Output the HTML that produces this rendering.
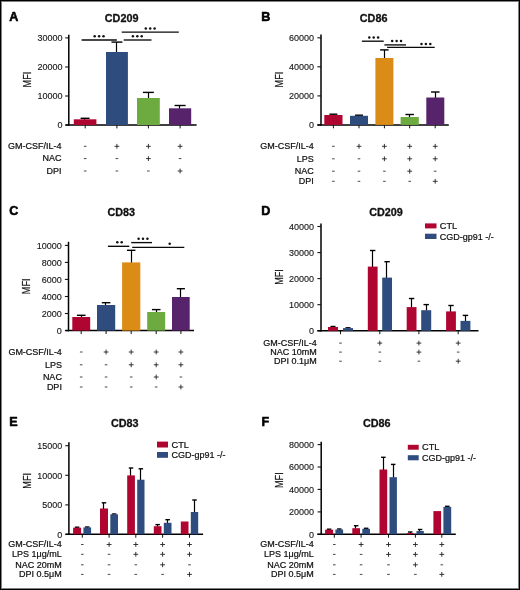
<!DOCTYPE html>
<html><head><meta charset="utf-8"><title>Figure</title>
<style>
html,body{margin:0;padding:0;background:#fff;}
body{width:520px;height:590px;overflow:hidden;}
svg{display:block;font-family:"Liberation Sans",sans-serif;will-change:transform;}
</style></head>
<body>
<svg width="520" height="590" viewBox="0 0 520 590" fill="#111">
<rect x="0" y="0" width="520" height="590" fill="#fff"/>
<g stroke-linejoin="round">
<text x="9.2" y="20.5" font-size="12.6" font-weight="bold" stroke="#000" stroke-width="0.55" fill="#000">A</text>
<text x="121.6" y="21.9" font-size="10.8" text-anchor="middle" font-weight="bold" stroke="#111" stroke-width="0.3">CD209</text>
<line x1="68.8" y1="34.7" x2="68.8" y2="125.7" stroke="#000" stroke-width="1.5"/>
<line x1="65.2" y1="37.9" x2="68.8" y2="37.9" stroke="#111" stroke-width="1.1"/>
<text x="62.5" y="41.14" font-size="9" text-anchor="end" stroke="#1a1a1a" stroke-width="0.14" fill="#1a1a1a">30000</text>
<line x1="65.2" y1="67" x2="68.8" y2="67" stroke="#111" stroke-width="1.1"/>
<text x="62.5" y="70.24" font-size="9" text-anchor="end" stroke="#1a1a1a" stroke-width="0.14" fill="#1a1a1a">20000</text>
<line x1="65.2" y1="96" x2="68.8" y2="96" stroke="#111" stroke-width="1.1"/>
<text x="62.5" y="99.24" font-size="9" text-anchor="end" stroke="#1a1a1a" stroke-width="0.14" fill="#1a1a1a">10000</text>
<line x1="65.2" y1="125" x2="68.8" y2="125" stroke="#111" stroke-width="1.1"/>
<text x="62.5" y="128.24" font-size="9" text-anchor="end" stroke="#1a1a1a" stroke-width="0.14" fill="#1a1a1a">0</text>
<text x="0" y="0" font-size="10.5" text-anchor="middle" transform="translate(30.62,79.6) rotate(-90) scale(0.87,1)" stroke="#111" stroke-width="0.22">MFI</text>
<line x1="65.5" y1="125" x2="196.6" y2="125" stroke="#000" stroke-width="1.5"/>
<line x1="85.2" y1="125" x2="85.2" y2="128.4" stroke="#111" stroke-width="1"/>
<line x1="116.9" y1="125" x2="116.9" y2="128.4" stroke="#111" stroke-width="1"/>
<line x1="148.4" y1="125" x2="148.4" y2="128.4" stroke="#111" stroke-width="1"/>
<line x1="180.1" y1="125" x2="180.1" y2="128.4" stroke="#111" stroke-width="1"/>
<line x1="84.5" y1="118.3" x2="84.5" y2="119.8" stroke="#000" stroke-width="1.2"/>
<line x1="80.6" y1="118.3" x2="89.6" y2="118.3" stroke="#000" stroke-width="1.4"/>
<rect x="73.8" y="119.3" width="22.6" height="5.7" fill="#AF0530"/>
<line x1="116.5" y1="42.1" x2="116.5" y2="52.5" stroke="#000" stroke-width="1.2"/>
<line x1="111.45" y1="42.1" x2="122.45" y2="42.1" stroke="#000" stroke-width="1.4"/>
<rect x="106" y="52" width="21.9" height="73" fill="#2F4C7E"/>
<line x1="148.5" y1="92.4" x2="148.5" y2="98.5" stroke="#000" stroke-width="1.2"/>
<line x1="142.9" y1="92.4" x2="153.9" y2="92.4" stroke="#000" stroke-width="1.4"/>
<rect x="137" y="98" width="22.8" height="27" fill="#6DAB41"/>
<line x1="179.5" y1="105.5" x2="179.5" y2="108.8" stroke="#000" stroke-width="1.2"/>
<line x1="174.6" y1="105.5" x2="185.6" y2="105.5" stroke="#000" stroke-width="1.4"/>
<rect x="169" y="108.3" width="22.2" height="16.7" fill="#57246C"/>
<line x1="81.6" y1="40" x2="116.8" y2="40" stroke="#0a0a0a" stroke-width="1.35"/>
<circle cx="94.7" cy="36.3" r="1.25" fill="#111"/>
<circle cx="99.1" cy="36.3" r="1.25" fill="#111"/>
<circle cx="103.5" cy="36.3" r="1.25" fill="#111"/>
<line x1="123.7" y1="40" x2="151.5" y2="40" stroke="#0a0a0a" stroke-width="1.35"/>
<circle cx="132.9" cy="36.3" r="1.25" fill="#111"/>
<circle cx="137.3" cy="36.3" r="1.25" fill="#111"/>
<circle cx="141.7" cy="36.3" r="1.25" fill="#111"/>
<line x1="121.7" y1="32.1" x2="178.8" y2="32.1" stroke="#0a0a0a" stroke-width="1.35"/>
<circle cx="145.8" cy="28.5" r="1.25" fill="#111"/>
<circle cx="150.2" cy="28.5" r="1.25" fill="#111"/>
<circle cx="154.6" cy="28.5" r="1.25" fill="#111"/>
<text x="61.6" y="149.18" font-size="9" text-anchor="end" stroke="#111" stroke-width="0.22">GM-CSF/IL-4</text>
<line x1="83.9" y1="146.3" x2="86.5" y2="146.3" stroke="#333" stroke-width="0.9"/>
<line x1="114.5" y1="146.3" x2="119.3" y2="146.3" stroke="#222" stroke-width="0.9"/>
<line x1="116.9" y1="143.9" x2="116.9" y2="148.7" stroke="#222" stroke-width="0.9"/>
<line x1="146" y1="146.3" x2="150.8" y2="146.3" stroke="#222" stroke-width="0.9"/>
<line x1="148.4" y1="143.9" x2="148.4" y2="148.7" stroke="#222" stroke-width="0.9"/>
<line x1="177.7" y1="146.3" x2="182.5" y2="146.3" stroke="#222" stroke-width="0.9"/>
<line x1="180.1" y1="143.9" x2="180.1" y2="148.7" stroke="#222" stroke-width="0.9"/>
<text x="61.6" y="161.48" font-size="9" text-anchor="end" stroke="#111" stroke-width="0.22">NAC</text>
<line x1="83.9" y1="158.6" x2="86.5" y2="158.6" stroke="#333" stroke-width="0.9"/>
<line x1="115.6" y1="158.6" x2="118.2" y2="158.6" stroke="#333" stroke-width="0.9"/>
<line x1="146" y1="158.6" x2="150.8" y2="158.6" stroke="#222" stroke-width="0.9"/>
<line x1="148.4" y1="156.2" x2="148.4" y2="161" stroke="#222" stroke-width="0.9"/>
<line x1="178.8" y1="158.6" x2="181.4" y2="158.6" stroke="#333" stroke-width="0.9"/>
<text x="61.6" y="173.88" font-size="9" text-anchor="end" stroke="#111" stroke-width="0.22">DPI</text>
<line x1="83.9" y1="171" x2="86.5" y2="171" stroke="#333" stroke-width="0.9"/>
<line x1="115.6" y1="171" x2="118.2" y2="171" stroke="#333" stroke-width="0.9"/>
<line x1="147.1" y1="171" x2="149.7" y2="171" stroke="#333" stroke-width="0.9"/>
<line x1="177.7" y1="171" x2="182.5" y2="171" stroke="#222" stroke-width="0.9"/>
<line x1="180.1" y1="168.6" x2="180.1" y2="173.4" stroke="#222" stroke-width="0.9"/>
<text x="261.2" y="20.5" font-size="12.6" font-weight="bold" stroke="#000" stroke-width="0.55" fill="#000">B</text>
<text x="373.6" y="21.7" font-size="10.8" text-anchor="middle" font-weight="bold" stroke="#111" stroke-width="0.3">CD86</text>
<line x1="321" y1="34.6" x2="321" y2="125.6" stroke="#000" stroke-width="1.5"/>
<line x1="317.4" y1="37.8" x2="321" y2="37.8" stroke="#111" stroke-width="1.1"/>
<text x="314" y="41.04" font-size="9" text-anchor="end" stroke="#1a1a1a" stroke-width="0.14" fill="#1a1a1a">60000</text>
<line x1="317.4" y1="66.8" x2="321" y2="66.8" stroke="#111" stroke-width="1.1"/>
<text x="314" y="70.04" font-size="9" text-anchor="end" stroke="#1a1a1a" stroke-width="0.14" fill="#1a1a1a">40000</text>
<line x1="317.4" y1="95.9" x2="321" y2="95.9" stroke="#111" stroke-width="1.1"/>
<text x="314" y="99.14" font-size="9" text-anchor="end" stroke="#1a1a1a" stroke-width="0.14" fill="#1a1a1a">20000</text>
<line x1="317.4" y1="124.9" x2="321" y2="124.9" stroke="#111" stroke-width="1.1"/>
<text x="314" y="128.14" font-size="9" text-anchor="end" stroke="#1a1a1a" stroke-width="0.14" fill="#1a1a1a">0</text>
<text x="0" y="0" font-size="10.5" text-anchor="middle" transform="translate(282.62,79.6) rotate(-90) scale(0.87,1)" stroke="#111" stroke-width="0.22">MFI</text>
<line x1="317.3" y1="124.9" x2="448.8" y2="124.9" stroke="#000" stroke-width="1.5"/>
<line x1="333.4" y1="124.9" x2="333.4" y2="128.3" stroke="#111" stroke-width="1"/>
<line x1="359" y1="124.9" x2="359" y2="128.3" stroke="#111" stroke-width="1"/>
<line x1="384.4" y1="124.9" x2="384.4" y2="128.3" stroke="#111" stroke-width="1"/>
<line x1="409.7" y1="124.9" x2="409.7" y2="128.3" stroke="#111" stroke-width="1"/>
<line x1="435.2" y1="124.9" x2="435.2" y2="128.3" stroke="#111" stroke-width="1"/>
<line x1="333.5" y1="114.2" x2="333.5" y2="115.5" stroke="#000" stroke-width="1.2"/>
<line x1="329.4" y1="114.2" x2="337.4" y2="114.2" stroke="#000" stroke-width="1.4"/>
<rect x="324.3" y="115" width="18.2" height="9.9" fill="#AF0530"/>
<line x1="358.5" y1="115.2" x2="358.5" y2="116.3" stroke="#000" stroke-width="1.2"/>
<line x1="355" y1="115.2" x2="363" y2="115.2" stroke="#000" stroke-width="1.4"/>
<rect x="350" y="115.8" width="18" height="9.1" fill="#2F4C7E"/>
<line x1="384.5" y1="49.9" x2="384.5" y2="58.5" stroke="#000" stroke-width="1.2"/>
<line x1="380.15" y1="49.9" x2="388.65" y2="49.9" stroke="#000" stroke-width="1.4"/>
<rect x="375.4" y="58" width="18" height="66.9" fill="#DB8C17"/>
<line x1="409.5" y1="114.5" x2="409.5" y2="117.5" stroke="#000" stroke-width="1.2"/>
<line x1="405.45" y1="114.5" x2="413.95" y2="114.5" stroke="#000" stroke-width="1.4"/>
<rect x="400.6" y="117" width="18.2" height="7.9" fill="#6DAB41"/>
<line x1="435.5" y1="92" x2="435.5" y2="98" stroke="#000" stroke-width="1.2"/>
<line x1="431.05" y1="92" x2="439.55" y2="92" stroke="#000" stroke-width="1.4"/>
<rect x="426.3" y="97.5" width="18" height="27.4" fill="#57246C"/>
<line x1="361.9" y1="41.2" x2="383.7" y2="41.2" stroke="#0a0a0a" stroke-width="1.35"/>
<circle cx="369.3" cy="37.5" r="1.25" fill="#111"/>
<circle cx="373.7" cy="37.5" r="1.25" fill="#111"/>
<circle cx="378.1" cy="37.5" r="1.25" fill="#111"/>
<line x1="384.4" y1="44.9" x2="406" y2="44.9" stroke="#0a0a0a" stroke-width="1.35"/>
<circle cx="392.2" cy="41" r="1.25" fill="#111"/>
<circle cx="396.6" cy="41" r="1.25" fill="#111"/>
<circle cx="401" cy="41" r="1.25" fill="#111"/>
<line x1="387.1" y1="47.4" x2="434.7" y2="47.4" stroke="#0a0a0a" stroke-width="1.35"/>
<circle cx="421.5" cy="43.9" r="1.25" fill="#111"/>
<circle cx="425.9" cy="43.9" r="1.25" fill="#111"/>
<circle cx="430.3" cy="43.9" r="1.25" fill="#111"/>
<text x="313.8" y="149.18" font-size="9" text-anchor="end" stroke="#111" stroke-width="0.22">GM-CSF/IL-4</text>
<line x1="332.1" y1="146.3" x2="334.7" y2="146.3" stroke="#333" stroke-width="0.9"/>
<line x1="356.6" y1="146.3" x2="361.4" y2="146.3" stroke="#222" stroke-width="0.9"/>
<line x1="359" y1="143.9" x2="359" y2="148.7" stroke="#222" stroke-width="0.9"/>
<line x1="382" y1="146.3" x2="386.8" y2="146.3" stroke="#222" stroke-width="0.9"/>
<line x1="384.4" y1="143.9" x2="384.4" y2="148.7" stroke="#222" stroke-width="0.9"/>
<line x1="407.3" y1="146.3" x2="412.1" y2="146.3" stroke="#222" stroke-width="0.9"/>
<line x1="409.7" y1="143.9" x2="409.7" y2="148.7" stroke="#222" stroke-width="0.9"/>
<line x1="432.8" y1="146.3" x2="437.6" y2="146.3" stroke="#222" stroke-width="0.9"/>
<line x1="435.2" y1="143.9" x2="435.2" y2="148.7" stroke="#222" stroke-width="0.9"/>
<text x="313.8" y="161.68" font-size="9" text-anchor="end" stroke="#111" stroke-width="0.22">LPS</text>
<line x1="332.1" y1="158.8" x2="334.7" y2="158.8" stroke="#333" stroke-width="0.9"/>
<line x1="357.7" y1="158.8" x2="360.3" y2="158.8" stroke="#333" stroke-width="0.9"/>
<line x1="382" y1="158.8" x2="386.8" y2="158.8" stroke="#222" stroke-width="0.9"/>
<line x1="384.4" y1="156.4" x2="384.4" y2="161.2" stroke="#222" stroke-width="0.9"/>
<line x1="407.3" y1="158.8" x2="412.1" y2="158.8" stroke="#222" stroke-width="0.9"/>
<line x1="409.7" y1="156.4" x2="409.7" y2="161.2" stroke="#222" stroke-width="0.9"/>
<line x1="432.8" y1="158.8" x2="437.6" y2="158.8" stroke="#222" stroke-width="0.9"/>
<line x1="435.2" y1="156.4" x2="435.2" y2="161.2" stroke="#222" stroke-width="0.9"/>
<text x="313.8" y="174.08" font-size="9" text-anchor="end" stroke="#111" stroke-width="0.22">NAC</text>
<line x1="332.1" y1="171.2" x2="334.7" y2="171.2" stroke="#333" stroke-width="0.9"/>
<line x1="357.7" y1="171.2" x2="360.3" y2="171.2" stroke="#333" stroke-width="0.9"/>
<line x1="383.1" y1="171.2" x2="385.7" y2="171.2" stroke="#333" stroke-width="0.9"/>
<line x1="407.3" y1="171.2" x2="412.1" y2="171.2" stroke="#222" stroke-width="0.9"/>
<line x1="409.7" y1="168.8" x2="409.7" y2="173.6" stroke="#222" stroke-width="0.9"/>
<line x1="433.9" y1="171.2" x2="436.5" y2="171.2" stroke="#333" stroke-width="0.9"/>
<text x="313.8" y="184.18" font-size="9" text-anchor="end" stroke="#111" stroke-width="0.22">DPI</text>
<line x1="332.1" y1="181.3" x2="334.7" y2="181.3" stroke="#333" stroke-width="0.9"/>
<line x1="357.7" y1="181.3" x2="360.3" y2="181.3" stroke="#333" stroke-width="0.9"/>
<line x1="383.1" y1="181.3" x2="385.7" y2="181.3" stroke="#333" stroke-width="0.9"/>
<line x1="408.4" y1="181.3" x2="411" y2="181.3" stroke="#333" stroke-width="0.9"/>
<line x1="432.8" y1="181.3" x2="437.6" y2="181.3" stroke="#222" stroke-width="0.9"/>
<line x1="435.2" y1="178.9" x2="435.2" y2="183.7" stroke="#222" stroke-width="0.9"/>
<text x="9.2" y="215.1" font-size="12.6" font-weight="bold" stroke="#000" stroke-width="0.55" fill="#000">C</text>
<text x="121.3" y="216.2" font-size="10.8" text-anchor="middle" font-weight="bold" stroke="#111" stroke-width="0.3">CD83</text>
<line x1="68.5" y1="241.8" x2="68.5" y2="331.3" stroke="#000" stroke-width="1.5"/>
<line x1="64.9" y1="245.4" x2="68.5" y2="245.4" stroke="#111" stroke-width="1.1"/>
<text x="61.8" y="248.64" font-size="9" text-anchor="end" stroke="#1a1a1a" stroke-width="0.14" fill="#1a1a1a">10000</text>
<line x1="64.9" y1="262.4" x2="68.5" y2="262.4" stroke="#111" stroke-width="1.1"/>
<text x="61.8" y="265.64" font-size="9" text-anchor="end" stroke="#1a1a1a" stroke-width="0.14" fill="#1a1a1a">8000</text>
<line x1="64.9" y1="279.4" x2="68.5" y2="279.4" stroke="#111" stroke-width="1.1"/>
<text x="61.8" y="282.64" font-size="9" text-anchor="end" stroke="#1a1a1a" stroke-width="0.14" fill="#1a1a1a">6000</text>
<line x1="64.9" y1="296.5" x2="68.5" y2="296.5" stroke="#111" stroke-width="1.1"/>
<text x="61.8" y="299.74" font-size="9" text-anchor="end" stroke="#1a1a1a" stroke-width="0.14" fill="#1a1a1a">4000</text>
<line x1="64.9" y1="313.5" x2="68.5" y2="313.5" stroke="#111" stroke-width="1.1"/>
<text x="61.8" y="316.74" font-size="9" text-anchor="end" stroke="#1a1a1a" stroke-width="0.14" fill="#1a1a1a">2000</text>
<line x1="64.9" y1="330.6" x2="68.5" y2="330.6" stroke="#111" stroke-width="1.1"/>
<text x="61.8" y="333.84" font-size="9" text-anchor="end" stroke="#1a1a1a" stroke-width="0.14" fill="#1a1a1a">0</text>
<text x="0" y="0" font-size="10.5" text-anchor="middle" transform="translate(30.12,286.3) rotate(-90) scale(0.87,1)" stroke="#111" stroke-width="0.22">MFI</text>
<line x1="65.5" y1="330.6" x2="194" y2="330.6" stroke="#000" stroke-width="1.5"/>
<line x1="81.2" y1="330.6" x2="81.2" y2="334" stroke="#111" stroke-width="1"/>
<line x1="106.1" y1="330.6" x2="106.1" y2="334" stroke="#111" stroke-width="1"/>
<line x1="131.2" y1="330.6" x2="131.2" y2="334" stroke="#111" stroke-width="1"/>
<line x1="156.2" y1="330.6" x2="156.2" y2="334" stroke="#111" stroke-width="1"/>
<line x1="180.9" y1="330.6" x2="180.9" y2="334" stroke="#111" stroke-width="1"/>
<line x1="81.5" y1="315.3" x2="81.5" y2="317.5" stroke="#000" stroke-width="1.2"/>
<line x1="76.95" y1="315.3" x2="85.55" y2="315.3" stroke="#000" stroke-width="1.4"/>
<rect x="72.3" y="317" width="17.9" height="13.6" fill="#AF0530"/>
<line x1="105.5" y1="302.7" x2="105.5" y2="305.5" stroke="#000" stroke-width="1.2"/>
<line x1="101.8" y1="302.7" x2="110.4" y2="302.7" stroke="#000" stroke-width="1.4"/>
<rect x="97" y="305" width="18.2" height="25.6" fill="#2F4C7E"/>
<line x1="131.5" y1="250.3" x2="131.5" y2="262.9" stroke="#000" stroke-width="1.2"/>
<line x1="126.95" y1="250.3" x2="135.45" y2="250.3" stroke="#000" stroke-width="1.4"/>
<rect x="122.1" y="262.4" width="18.2" height="68.2" fill="#DB8C17"/>
<line x1="156.5" y1="309.6" x2="156.5" y2="312.5" stroke="#000" stroke-width="1.2"/>
<line x1="151.9" y1="309.6" x2="160.5" y2="309.6" stroke="#000" stroke-width="1.4"/>
<rect x="147.2" y="312" width="18" height="18.6" fill="#6DAB41"/>
<line x1="180.5" y1="288.7" x2="180.5" y2="297.5" stroke="#000" stroke-width="1.2"/>
<line x1="176.8" y1="288.7" x2="184.9" y2="288.7" stroke="#000" stroke-width="1.4"/>
<rect x="172" y="297" width="17.7" height="33.6" fill="#57246C"/>
<line x1="107.9" y1="246.3" x2="129.3" y2="246.3" stroke="#0a0a0a" stroke-width="1.35"/>
<circle cx="117.3" cy="242.2" r="1.25" fill="#111"/>
<circle cx="121.7" cy="242.2" r="1.25" fill="#111"/>
<line x1="131.2" y1="242.6" x2="152" y2="242.6" stroke="#0a0a0a" stroke-width="1.35"/>
<circle cx="138.6" cy="238.8" r="1.25" fill="#111"/>
<circle cx="143" cy="238.8" r="1.25" fill="#111"/>
<circle cx="147.4" cy="238.8" r="1.25" fill="#111"/>
<line x1="132.2" y1="247.3" x2="184.3" y2="247.3" stroke="#0a0a0a" stroke-width="1.35"/>
<circle cx="169.7" cy="243.8" r="1.25" fill="#111"/>
<text x="61.9" y="354.88" font-size="9" text-anchor="end" stroke="#111" stroke-width="0.22">GM-CSF/IL-4</text>
<line x1="79.9" y1="352" x2="82.5" y2="352" stroke="#333" stroke-width="0.9"/>
<line x1="103.7" y1="352" x2="108.5" y2="352" stroke="#222" stroke-width="0.9"/>
<line x1="106.1" y1="349.6" x2="106.1" y2="354.4" stroke="#222" stroke-width="0.9"/>
<line x1="128.8" y1="352" x2="133.6" y2="352" stroke="#222" stroke-width="0.9"/>
<line x1="131.2" y1="349.6" x2="131.2" y2="354.4" stroke="#222" stroke-width="0.9"/>
<line x1="153.8" y1="352" x2="158.6" y2="352" stroke="#222" stroke-width="0.9"/>
<line x1="156.2" y1="349.6" x2="156.2" y2="354.4" stroke="#222" stroke-width="0.9"/>
<line x1="178.5" y1="352" x2="183.3" y2="352" stroke="#222" stroke-width="0.9"/>
<line x1="180.9" y1="349.6" x2="180.9" y2="354.4" stroke="#222" stroke-width="0.9"/>
<text x="61.9" y="367.68" font-size="9" text-anchor="end" stroke="#111" stroke-width="0.22">LPS</text>
<line x1="79.9" y1="364.8" x2="82.5" y2="364.8" stroke="#333" stroke-width="0.9"/>
<line x1="104.8" y1="364.8" x2="107.4" y2="364.8" stroke="#333" stroke-width="0.9"/>
<line x1="128.8" y1="364.8" x2="133.6" y2="364.8" stroke="#222" stroke-width="0.9"/>
<line x1="131.2" y1="362.4" x2="131.2" y2="367.2" stroke="#222" stroke-width="0.9"/>
<line x1="153.8" y1="364.8" x2="158.6" y2="364.8" stroke="#222" stroke-width="0.9"/>
<line x1="156.2" y1="362.4" x2="156.2" y2="367.2" stroke="#222" stroke-width="0.9"/>
<line x1="178.5" y1="364.8" x2="183.3" y2="364.8" stroke="#222" stroke-width="0.9"/>
<line x1="180.9" y1="362.4" x2="180.9" y2="367.2" stroke="#222" stroke-width="0.9"/>
<text x="61.9" y="379.88" font-size="9" text-anchor="end" stroke="#111" stroke-width="0.22">NAC</text>
<line x1="79.9" y1="377" x2="82.5" y2="377" stroke="#333" stroke-width="0.9"/>
<line x1="104.8" y1="377" x2="107.4" y2="377" stroke="#333" stroke-width="0.9"/>
<line x1="129.9" y1="377" x2="132.5" y2="377" stroke="#333" stroke-width="0.9"/>
<line x1="153.8" y1="377" x2="158.6" y2="377" stroke="#222" stroke-width="0.9"/>
<line x1="156.2" y1="374.6" x2="156.2" y2="379.4" stroke="#222" stroke-width="0.9"/>
<line x1="179.6" y1="377" x2="182.2" y2="377" stroke="#333" stroke-width="0.9"/>
<text x="61.9" y="389.88" font-size="9" text-anchor="end" stroke="#111" stroke-width="0.22">DPI</text>
<line x1="79.9" y1="387" x2="82.5" y2="387" stroke="#333" stroke-width="0.9"/>
<line x1="104.8" y1="387" x2="107.4" y2="387" stroke="#333" stroke-width="0.9"/>
<line x1="129.9" y1="387" x2="132.5" y2="387" stroke="#333" stroke-width="0.9"/>
<line x1="154.9" y1="387" x2="157.5" y2="387" stroke="#333" stroke-width="0.9"/>
<line x1="178.5" y1="387" x2="183.3" y2="387" stroke="#222" stroke-width="0.9"/>
<line x1="180.9" y1="384.6" x2="180.9" y2="389.4" stroke="#222" stroke-width="0.9"/>
<text x="261.2" y="215.1" font-size="12.6" font-weight="bold" stroke="#000" stroke-width="0.55" fill="#000">D</text>
<text x="386" y="216.1" font-size="10.8" text-anchor="middle" font-weight="bold" stroke="#111" stroke-width="0.3">CD209</text>
<line x1="321" y1="223.4" x2="321" y2="331.5" stroke="#000" stroke-width="1.5"/>
<line x1="317.4" y1="226.5" x2="321" y2="226.5" stroke="#111" stroke-width="1.1"/>
<text x="314" y="229.74" font-size="9" text-anchor="end" stroke="#1a1a1a" stroke-width="0.14" fill="#1a1a1a">40000</text>
<line x1="317.4" y1="252.6" x2="321" y2="252.6" stroke="#111" stroke-width="1.1"/>
<text x="314" y="255.84" font-size="9" text-anchor="end" stroke="#1a1a1a" stroke-width="0.14" fill="#1a1a1a">30000</text>
<line x1="317.4" y1="278.6" x2="321" y2="278.6" stroke="#111" stroke-width="1.1"/>
<text x="314" y="281.84" font-size="9" text-anchor="end" stroke="#1a1a1a" stroke-width="0.14" fill="#1a1a1a">20000</text>
<line x1="317.4" y1="304.7" x2="321" y2="304.7" stroke="#111" stroke-width="1.1"/>
<text x="314" y="307.94" font-size="9" text-anchor="end" stroke="#1a1a1a" stroke-width="0.14" fill="#1a1a1a">10000</text>
<line x1="317.4" y1="330.8" x2="321" y2="330.8" stroke="#111" stroke-width="1.1"/>
<text x="314" y="334.04" font-size="9" text-anchor="end" stroke="#1a1a1a" stroke-width="0.14" fill="#1a1a1a">0</text>
<text x="0" y="0" font-size="10.5" text-anchor="middle" transform="translate(282.82,277) rotate(-90) scale(0.87,1)" stroke="#111" stroke-width="0.22">MFI</text>
<line x1="317.3" y1="330.8" x2="478.5" y2="330.8" stroke="#000" stroke-width="1.5"/>
<line x1="340.5" y1="330.8" x2="340.5" y2="334.2" stroke="#111" stroke-width="1"/>
<line x1="379.8" y1="330.8" x2="379.8" y2="334.2" stroke="#111" stroke-width="1"/>
<line x1="418.9" y1="330.8" x2="418.9" y2="334.2" stroke="#111" stroke-width="1"/>
<line x1="458.2" y1="330.8" x2="458.2" y2="334.2" stroke="#111" stroke-width="1"/>
<line x1="332.5" y1="326.5" x2="332.5" y2="327.5" stroke="#000" stroke-width="1.2"/>
<line x1="330.5" y1="326.5" x2="335.5" y2="326.5" stroke="#000" stroke-width="1.4"/>
<rect x="328" y="327" width="10" height="3.8" fill="#AF0530"/>
<line x1="347.5" y1="327.8" x2="347.5" y2="328.6" stroke="#000" stroke-width="1.2"/>
<line x1="345.5" y1="327.8" x2="350.5" y2="327.8" stroke="#000" stroke-width="1.4"/>
<rect x="343" y="328.1" width="10" height="2.7" fill="#2F4C7E"/>
<line x1="372.5" y1="250.5" x2="372.5" y2="267.1" stroke="#000" stroke-width="1.2"/>
<line x1="370" y1="250.5" x2="375.4" y2="250.5" stroke="#000" stroke-width="1.4"/>
<rect x="367.8" y="266.6" width="9.8" height="64.2" fill="#AF0530"/>
<line x1="386.5" y1="261.7" x2="386.5" y2="278.1" stroke="#000" stroke-width="1.2"/>
<line x1="384.4" y1="261.7" x2="389.8" y2="261.7" stroke="#000" stroke-width="1.4"/>
<rect x="382.2" y="277.6" width="9.8" height="53.2" fill="#2F4C7E"/>
<line x1="411.5" y1="298.5" x2="411.5" y2="307.6" stroke="#000" stroke-width="1.2"/>
<line x1="408.9" y1="298.5" x2="414.3" y2="298.5" stroke="#000" stroke-width="1.4"/>
<rect x="406.7" y="307.1" width="9.8" height="23.7" fill="#AF0530"/>
<line x1="426.5" y1="304.6" x2="426.5" y2="310.7" stroke="#000" stroke-width="1.2"/>
<line x1="423.5" y1="304.6" x2="428.9" y2="304.6" stroke="#000" stroke-width="1.4"/>
<rect x="421.2" y="310.2" width="10" height="20.6" fill="#2F4C7E"/>
<line x1="450.5" y1="305.5" x2="450.5" y2="311.9" stroke="#000" stroke-width="1.2"/>
<line x1="448.3" y1="305.5" x2="453.7" y2="305.5" stroke="#000" stroke-width="1.4"/>
<rect x="446.1" y="311.4" width="9.8" height="19.4" fill="#AF0530"/>
<line x1="465.5" y1="315.4" x2="465.5" y2="321.4" stroke="#000" stroke-width="1.2"/>
<line x1="462.75" y1="315.4" x2="468.15" y2="315.4" stroke="#000" stroke-width="1.4"/>
<rect x="460.5" y="320.9" width="9.9" height="9.9" fill="#2F4C7E"/>
<rect x="425" y="223.4" width="11.5" height="5" fill="#AF0530"/>
<rect x="425" y="233.7" width="11.5" height="5.3" fill="#2F4C7E"/>
<text x="439.8" y="229.04" font-size="9.2" text-anchor="start" stroke="#111" stroke-width="0.22">CTL</text>
<text x="439.8" y="239.64" font-size="9" text-anchor="start" stroke="#111" stroke-width="0.22">CGD-gp91 -/-</text>
<text x="316.8" y="345.98" font-size="9" text-anchor="end" stroke="#111" stroke-width="0.22">GM-CSF/IL-4</text>
<line x1="339.2" y1="343.1" x2="341.8" y2="343.1" stroke="#333" stroke-width="0.9"/>
<line x1="377.4" y1="343.1" x2="382.2" y2="343.1" stroke="#222" stroke-width="0.9"/>
<line x1="379.8" y1="340.7" x2="379.8" y2="345.5" stroke="#222" stroke-width="0.9"/>
<line x1="416.5" y1="343.1" x2="421.3" y2="343.1" stroke="#222" stroke-width="0.9"/>
<line x1="418.9" y1="340.7" x2="418.9" y2="345.5" stroke="#222" stroke-width="0.9"/>
<line x1="455.8" y1="343.1" x2="460.6" y2="343.1" stroke="#222" stroke-width="0.9"/>
<line x1="458.2" y1="340.7" x2="458.2" y2="345.5" stroke="#222" stroke-width="0.9"/>
<text x="316.8" y="354.98" font-size="9" text-anchor="end" stroke="#111" stroke-width="0.22">NAC 10mM</text>
<line x1="339.2" y1="352.1" x2="341.8" y2="352.1" stroke="#333" stroke-width="0.9"/>
<line x1="378.5" y1="352.1" x2="381.1" y2="352.1" stroke="#333" stroke-width="0.9"/>
<line x1="416.5" y1="352.1" x2="421.3" y2="352.1" stroke="#222" stroke-width="0.9"/>
<line x1="418.9" y1="349.7" x2="418.9" y2="354.5" stroke="#222" stroke-width="0.9"/>
<line x1="456.9" y1="352.1" x2="459.5" y2="352.1" stroke="#333" stroke-width="0.9"/>
<text x="316.8" y="364.08" font-size="9" text-anchor="end" stroke="#111" stroke-width="0.22">DPI 0.1&#956;M</text>
<line x1="339.2" y1="361.2" x2="341.8" y2="361.2" stroke="#333" stroke-width="0.9"/>
<line x1="378.5" y1="361.2" x2="381.1" y2="361.2" stroke="#333" stroke-width="0.9"/>
<line x1="417.6" y1="361.2" x2="420.2" y2="361.2" stroke="#333" stroke-width="0.9"/>
<line x1="455.8" y1="361.2" x2="460.6" y2="361.2" stroke="#222" stroke-width="0.9"/>
<line x1="458.2" y1="358.8" x2="458.2" y2="363.6" stroke="#222" stroke-width="0.9"/>
<text x="9.2" y="426.2" font-size="12.6" font-weight="bold" stroke="#000" stroke-width="0.55" fill="#000">E</text>
<text x="124.8" y="427.2" font-size="10.8" text-anchor="middle" font-weight="bold" stroke="#111" stroke-width="0.3">CD83</text>
<line x1="68.9" y1="442.3" x2="68.9" y2="535" stroke="#000" stroke-width="1.5"/>
<line x1="65.3" y1="445.7" x2="68.9" y2="445.7" stroke="#111" stroke-width="1.1"/>
<text x="62.3" y="448.94" font-size="9" text-anchor="end" stroke="#1a1a1a" stroke-width="0.14" fill="#1a1a1a">15000</text>
<line x1="65.3" y1="475.3" x2="68.9" y2="475.3" stroke="#111" stroke-width="1.1"/>
<text x="62.3" y="478.54" font-size="9" text-anchor="end" stroke="#1a1a1a" stroke-width="0.14" fill="#1a1a1a">10000</text>
<line x1="65.3" y1="504.9" x2="68.9" y2="504.9" stroke="#111" stroke-width="1.1"/>
<text x="62.3" y="508.14" font-size="9" text-anchor="end" stroke="#1a1a1a" stroke-width="0.14" fill="#1a1a1a">5000</text>
<line x1="65.3" y1="534.3" x2="68.9" y2="534.3" stroke="#111" stroke-width="1.1"/>
<text x="62.3" y="537.54" font-size="9" text-anchor="end" stroke="#1a1a1a" stroke-width="0.14" fill="#1a1a1a">0</text>
<text x="0" y="0" font-size="10.5" text-anchor="middle" transform="translate(30.62,480.8) rotate(-90) scale(0.87,1)" stroke="#111" stroke-width="0.22">MFI</text>
<line x1="65.5" y1="534.3" x2="203.1" y2="534.3" stroke="#000" stroke-width="1.5"/>
<line x1="82.3" y1="534.3" x2="82.3" y2="537.7" stroke="#111" stroke-width="1"/>
<line x1="109.1" y1="534.3" x2="109.1" y2="537.7" stroke="#111" stroke-width="1"/>
<line x1="135.8" y1="534.3" x2="135.8" y2="537.7" stroke="#111" stroke-width="1"/>
<line x1="162.6" y1="534.3" x2="162.6" y2="537.7" stroke="#111" stroke-width="1"/>
<line x1="189.5" y1="534.3" x2="189.5" y2="537.7" stroke="#111" stroke-width="1"/>
<line x1="76.5" y1="527.2" x2="76.5" y2="528.2" stroke="#000" stroke-width="1.2"/>
<line x1="74.85" y1="527.2" x2="79.35" y2="527.2" stroke="#000" stroke-width="1.4"/>
<rect x="73.1" y="527.7" width="8" height="6.6" fill="#AF0530"/>
<line x1="87.5" y1="527" x2="87.5" y2="527.9" stroke="#000" stroke-width="1.2"/>
<line x1="85" y1="527" x2="89.5" y2="527" stroke="#000" stroke-width="1.4"/>
<rect x="83.4" y="527.4" width="7.7" height="6.9" fill="#2F4C7E"/>
<line x1="103.5" y1="502.8" x2="103.5" y2="509" stroke="#000" stroke-width="1.2"/>
<line x1="101.75" y1="502.8" x2="106.25" y2="502.8" stroke="#000" stroke-width="1.4"/>
<rect x="100" y="508.5" width="8" height="25.8" fill="#AF0530"/>
<line x1="113.5" y1="514" x2="113.5" y2="514.8" stroke="#000" stroke-width="1.2"/>
<line x1="111.9" y1="514" x2="116.4" y2="514" stroke="#000" stroke-width="1.4"/>
<rect x="110.3" y="514.3" width="7.7" height="20" fill="#2F4C7E"/>
<line x1="130.5" y1="468" x2="130.5" y2="475.9" stroke="#000" stroke-width="1.2"/>
<line x1="128.8" y1="468" x2="133.3" y2="468" stroke="#000" stroke-width="1.4"/>
<rect x="127.2" y="475.4" width="7.7" height="58.9" fill="#AF0530"/>
<line x1="140.5" y1="468.8" x2="140.5" y2="480.2" stroke="#000" stroke-width="1.2"/>
<line x1="138.6" y1="468.8" x2="143.1" y2="468.8" stroke="#000" stroke-width="1.4"/>
<rect x="137.2" y="479.7" width="7.3" height="54.6" fill="#2F4C7E"/>
<line x1="157.5" y1="524.6" x2="157.5" y2="526.7" stroke="#000" stroke-width="1.2"/>
<line x1="155.4" y1="524.6" x2="159.9" y2="524.6" stroke="#000" stroke-width="1.4"/>
<rect x="153.8" y="526.2" width="7.7" height="8.1" fill="#AF0530"/>
<line x1="167.5" y1="519.7" x2="167.5" y2="523.3" stroke="#000" stroke-width="1.2"/>
<line x1="165.4" y1="519.7" x2="169.9" y2="519.7" stroke="#000" stroke-width="1.4"/>
<rect x="163.8" y="522.8" width="7.7" height="11.5" fill="#2F4C7E"/>
<rect x="180.8" y="521.5" width="7.7" height="12.8" fill="#AF0530"/>
<line x1="194.5" y1="500" x2="194.5" y2="512.5" stroke="#000" stroke-width="1.2"/>
<line x1="192.25" y1="500" x2="196.75" y2="500" stroke="#000" stroke-width="1.4"/>
<rect x="190.8" y="512" width="7.4" height="22.3" fill="#2F4C7E"/>
<rect x="157" y="441.6" width="11" height="5.9" fill="#AF0530"/>
<rect x="157" y="452" width="11" height="5.8" fill="#2F4C7E"/>
<text x="171.6" y="448.14" font-size="9.2" text-anchor="start" stroke="#111" stroke-width="0.22">CTL</text>
<text x="171.6" y="458.44" font-size="9" text-anchor="start" stroke="#111" stroke-width="0.22">CGD-gp91 -/-</text>
<text x="61.8" y="547.38" font-size="9" text-anchor="end" stroke="#111" stroke-width="0.22">GM-CSF/IL-4</text>
<line x1="81" y1="544.5" x2="83.6" y2="544.5" stroke="#333" stroke-width="0.9"/>
<line x1="106.7" y1="544.5" x2="111.5" y2="544.5" stroke="#222" stroke-width="0.9"/>
<line x1="109.1" y1="542.1" x2="109.1" y2="546.9" stroke="#222" stroke-width="0.9"/>
<line x1="133.4" y1="544.5" x2="138.2" y2="544.5" stroke="#222" stroke-width="0.9"/>
<line x1="135.8" y1="542.1" x2="135.8" y2="546.9" stroke="#222" stroke-width="0.9"/>
<line x1="160.2" y1="544.5" x2="165" y2="544.5" stroke="#222" stroke-width="0.9"/>
<line x1="162.6" y1="542.1" x2="162.6" y2="546.9" stroke="#222" stroke-width="0.9"/>
<line x1="187.1" y1="544.5" x2="191.9" y2="544.5" stroke="#222" stroke-width="0.9"/>
<line x1="189.5" y1="542.1" x2="189.5" y2="546.9" stroke="#222" stroke-width="0.9"/>
<text x="61.8" y="557.18" font-size="9" text-anchor="end" stroke="#111" stroke-width="0.22">LPS 1&#956;g/mL</text>
<line x1="81" y1="554.3" x2="83.6" y2="554.3" stroke="#333" stroke-width="0.9"/>
<line x1="107.8" y1="554.3" x2="110.4" y2="554.3" stroke="#333" stroke-width="0.9"/>
<line x1="133.4" y1="554.3" x2="138.2" y2="554.3" stroke="#222" stroke-width="0.9"/>
<line x1="135.8" y1="551.9" x2="135.8" y2="556.7" stroke="#222" stroke-width="0.9"/>
<line x1="160.2" y1="554.3" x2="165" y2="554.3" stroke="#222" stroke-width="0.9"/>
<line x1="162.6" y1="551.9" x2="162.6" y2="556.7" stroke="#222" stroke-width="0.9"/>
<line x1="187.1" y1="554.3" x2="191.9" y2="554.3" stroke="#222" stroke-width="0.9"/>
<line x1="189.5" y1="551.9" x2="189.5" y2="556.7" stroke="#222" stroke-width="0.9"/>
<text x="61.8" y="567.68" font-size="9" text-anchor="end" stroke="#111" stroke-width="0.22">NAC 20mM</text>
<line x1="81" y1="564.8" x2="83.6" y2="564.8" stroke="#333" stroke-width="0.9"/>
<line x1="107.8" y1="564.8" x2="110.4" y2="564.8" stroke="#333" stroke-width="0.9"/>
<line x1="134.5" y1="564.8" x2="137.1" y2="564.8" stroke="#333" stroke-width="0.9"/>
<line x1="160.2" y1="564.8" x2="165" y2="564.8" stroke="#222" stroke-width="0.9"/>
<line x1="162.6" y1="562.4" x2="162.6" y2="567.2" stroke="#222" stroke-width="0.9"/>
<line x1="188.2" y1="564.8" x2="190.8" y2="564.8" stroke="#333" stroke-width="0.9"/>
<text x="61.8" y="577.28" font-size="9" text-anchor="end" stroke="#111" stroke-width="0.22">DPI 0.5&#956;M</text>
<line x1="81" y1="574.4" x2="83.6" y2="574.4" stroke="#333" stroke-width="0.9"/>
<line x1="107.8" y1="574.4" x2="110.4" y2="574.4" stroke="#333" stroke-width="0.9"/>
<line x1="134.5" y1="574.4" x2="137.1" y2="574.4" stroke="#333" stroke-width="0.9"/>
<line x1="161.3" y1="574.4" x2="163.9" y2="574.4" stroke="#333" stroke-width="0.9"/>
<line x1="187.1" y1="574.4" x2="191.9" y2="574.4" stroke="#222" stroke-width="0.9"/>
<line x1="189.5" y1="572" x2="189.5" y2="576.8" stroke="#222" stroke-width="0.9"/>
<text x="261.6" y="425.8" font-size="12.6" font-weight="bold" stroke="#000" stroke-width="0.55" fill="#000">F</text>
<text x="376.7" y="427.2" font-size="10.8" text-anchor="middle" font-weight="bold" stroke="#111" stroke-width="0.3">CD86</text>
<line x1="321.2" y1="441.8" x2="321.2" y2="535" stroke="#000" stroke-width="1.5"/>
<line x1="317.6" y1="444.6" x2="321.2" y2="444.6" stroke="#111" stroke-width="1.1"/>
<text x="314" y="447.84" font-size="9" text-anchor="end" stroke="#1a1a1a" stroke-width="0.14" fill="#1a1a1a">80000</text>
<line x1="317.6" y1="467" x2="321.2" y2="467" stroke="#111" stroke-width="1.1"/>
<text x="314" y="470.24" font-size="9" text-anchor="end" stroke="#1a1a1a" stroke-width="0.14" fill="#1a1a1a">60000</text>
<line x1="317.6" y1="489.4" x2="321.2" y2="489.4" stroke="#111" stroke-width="1.1"/>
<text x="314" y="492.64" font-size="9" text-anchor="end" stroke="#1a1a1a" stroke-width="0.14" fill="#1a1a1a">40000</text>
<line x1="317.6" y1="511.9" x2="321.2" y2="511.9" stroke="#111" stroke-width="1.1"/>
<text x="314" y="515.14" font-size="9" text-anchor="end" stroke="#1a1a1a" stroke-width="0.14" fill="#1a1a1a">20000</text>
<line x1="317.6" y1="534.3" x2="321.2" y2="534.3" stroke="#111" stroke-width="1.1"/>
<text x="314" y="537.54" font-size="9" text-anchor="end" stroke="#1a1a1a" stroke-width="0.14" fill="#1a1a1a">0</text>
<text x="0" y="0" font-size="10.5" text-anchor="middle" transform="translate(282.82,480.2) rotate(-90) scale(0.87,1)" stroke="#111" stroke-width="0.22">MFI</text>
<line x1="317.3" y1="534.3" x2="455.8" y2="534.3" stroke="#000" stroke-width="1.5"/>
<line x1="334.3" y1="534.3" x2="334.3" y2="537.7" stroke="#111" stroke-width="1"/>
<line x1="361.1" y1="534.3" x2="361.1" y2="537.7" stroke="#111" stroke-width="1"/>
<line x1="388.5" y1="534.3" x2="388.5" y2="537.7" stroke="#111" stroke-width="1"/>
<line x1="415.4" y1="534.3" x2="415.4" y2="537.7" stroke="#111" stroke-width="1"/>
<line x1="441.8" y1="534.3" x2="441.8" y2="537.7" stroke="#111" stroke-width="1"/>
<line x1="328.5" y1="529.2" x2="328.5" y2="530.2" stroke="#000" stroke-width="1.2"/>
<line x1="326.85" y1="529.2" x2="331.35" y2="529.2" stroke="#000" stroke-width="1.4"/>
<rect x="325.1" y="529.7" width="8" height="4.6" fill="#AF0530"/>
<line x1="339.5" y1="529" x2="339.5" y2="530" stroke="#000" stroke-width="1.2"/>
<line x1="337" y1="529" x2="341.5" y2="529" stroke="#000" stroke-width="1.4"/>
<rect x="335.4" y="529.5" width="7.7" height="4.8" fill="#2F4C7E"/>
<line x1="355.5" y1="525.7" x2="355.5" y2="528.7" stroke="#000" stroke-width="1.2"/>
<line x1="353.9" y1="525.7" x2="358.4" y2="525.7" stroke="#000" stroke-width="1.4"/>
<rect x="352.3" y="528.2" width="7.7" height="6.1" fill="#AF0530"/>
<line x1="365.5" y1="528.3" x2="365.5" y2="529.3" stroke="#000" stroke-width="1.2"/>
<line x1="363.9" y1="528.3" x2="368.4" y2="528.3" stroke="#000" stroke-width="1.4"/>
<rect x="362.3" y="528.8" width="7.7" height="5.5" fill="#2F4C7E"/>
<line x1="383.5" y1="457.3" x2="383.5" y2="470" stroke="#000" stroke-width="1.2"/>
<line x1="381.1" y1="457.3" x2="385.6" y2="457.3" stroke="#000" stroke-width="1.4"/>
<rect x="379.5" y="469.5" width="7.7" height="64.8" fill="#AF0530"/>
<line x1="393.5" y1="464.4" x2="393.5" y2="477.7" stroke="#000" stroke-width="1.2"/>
<line x1="390.95" y1="464.4" x2="395.45" y2="464.4" stroke="#000" stroke-width="1.4"/>
<rect x="389.5" y="477.2" width="7.4" height="57.1" fill="#2F4C7E"/>
<line x1="410.5" y1="532" x2="410.5" y2="533.5" stroke="#000" stroke-width="1.2"/>
<line x1="407.95" y1="532" x2="412.45" y2="532" stroke="#000" stroke-width="1.4"/>
<rect x="406.9" y="533" width="6.6" height="1.3" fill="#AF0530"/>
<line x1="419.5" y1="529.5" x2="419.5" y2="531.5" stroke="#000" stroke-width="1.2"/>
<line x1="417.9" y1="529.5" x2="422.4" y2="529.5" stroke="#000" stroke-width="1.4"/>
<rect x="416.5" y="531" width="7.3" height="3.3" fill="#2F4C7E"/>
<rect x="433.4" y="511.1" width="7.7" height="23.2" fill="#AF0530"/>
<line x1="447.5" y1="506.3" x2="447.5" y2="507.4" stroke="#000" stroke-width="1.2"/>
<line x1="445.05" y1="506.3" x2="449.55" y2="506.3" stroke="#000" stroke-width="1.4"/>
<rect x="443.4" y="506.9" width="7.8" height="27.4" fill="#2F4C7E"/>
<rect x="407.8" y="444.8" width="10.9" height="4.9" fill="#AF0530"/>
<rect x="407.8" y="455.2" width="10.9" height="5.1" fill="#2F4C7E"/>
<text x="422" y="450.34" font-size="9.2" text-anchor="start" stroke="#111" stroke-width="0.22">CTL</text>
<text x="422" y="460.74" font-size="9" text-anchor="start" stroke="#111" stroke-width="0.22">CGD-gp91 -/-</text>
<text x="313.8" y="547.38" font-size="9" text-anchor="end" stroke="#111" stroke-width="0.22">GM-CSF/IL-4</text>
<line x1="333" y1="544.5" x2="335.6" y2="544.5" stroke="#333" stroke-width="0.9"/>
<line x1="358.7" y1="544.5" x2="363.5" y2="544.5" stroke="#222" stroke-width="0.9"/>
<line x1="361.1" y1="542.1" x2="361.1" y2="546.9" stroke="#222" stroke-width="0.9"/>
<line x1="386.1" y1="544.5" x2="390.9" y2="544.5" stroke="#222" stroke-width="0.9"/>
<line x1="388.5" y1="542.1" x2="388.5" y2="546.9" stroke="#222" stroke-width="0.9"/>
<line x1="413" y1="544.5" x2="417.8" y2="544.5" stroke="#222" stroke-width="0.9"/>
<line x1="415.4" y1="542.1" x2="415.4" y2="546.9" stroke="#222" stroke-width="0.9"/>
<line x1="439.4" y1="544.5" x2="444.2" y2="544.5" stroke="#222" stroke-width="0.9"/>
<line x1="441.8" y1="542.1" x2="441.8" y2="546.9" stroke="#222" stroke-width="0.9"/>
<text x="313.8" y="557.28" font-size="9" text-anchor="end" stroke="#111" stroke-width="0.22">LPS 1&#956;g/mL</text>
<line x1="333" y1="554.4" x2="335.6" y2="554.4" stroke="#333" stroke-width="0.9"/>
<line x1="359.8" y1="554.4" x2="362.4" y2="554.4" stroke="#333" stroke-width="0.9"/>
<line x1="386.1" y1="554.4" x2="390.9" y2="554.4" stroke="#222" stroke-width="0.9"/>
<line x1="388.5" y1="552" x2="388.5" y2="556.8" stroke="#222" stroke-width="0.9"/>
<line x1="413" y1="554.4" x2="417.8" y2="554.4" stroke="#222" stroke-width="0.9"/>
<line x1="415.4" y1="552" x2="415.4" y2="556.8" stroke="#222" stroke-width="0.9"/>
<line x1="439.4" y1="554.4" x2="444.2" y2="554.4" stroke="#222" stroke-width="0.9"/>
<line x1="441.8" y1="552" x2="441.8" y2="556.8" stroke="#222" stroke-width="0.9"/>
<text x="313.8" y="567.68" font-size="9" text-anchor="end" stroke="#111" stroke-width="0.22">NAC 20mM</text>
<line x1="333" y1="564.8" x2="335.6" y2="564.8" stroke="#333" stroke-width="0.9"/>
<line x1="359.8" y1="564.8" x2="362.4" y2="564.8" stroke="#333" stroke-width="0.9"/>
<line x1="387.2" y1="564.8" x2="389.8" y2="564.8" stroke="#333" stroke-width="0.9"/>
<line x1="413" y1="564.8" x2="417.8" y2="564.8" stroke="#222" stroke-width="0.9"/>
<line x1="415.4" y1="562.4" x2="415.4" y2="567.2" stroke="#222" stroke-width="0.9"/>
<line x1="440.5" y1="564.8" x2="443.1" y2="564.8" stroke="#333" stroke-width="0.9"/>
<text x="313.8" y="577.28" font-size="9" text-anchor="end" stroke="#111" stroke-width="0.22">DPI 0.5&#956;M</text>
<line x1="333" y1="574.4" x2="335.6" y2="574.4" stroke="#333" stroke-width="0.9"/>
<line x1="359.8" y1="574.4" x2="362.4" y2="574.4" stroke="#333" stroke-width="0.9"/>
<line x1="387.2" y1="574.4" x2="389.8" y2="574.4" stroke="#333" stroke-width="0.9"/>
<line x1="414.1" y1="574.4" x2="416.7" y2="574.4" stroke="#333" stroke-width="0.9"/>
<line x1="439.4" y1="574.4" x2="444.2" y2="574.4" stroke="#222" stroke-width="0.9"/>
<line x1="441.8" y1="572" x2="441.8" y2="576.8" stroke="#222" stroke-width="0.9"/>
</g>
<rect x="1" y="1" width="518" height="1" fill="#808080"/>
<rect x="1" y="588" width="518" height="1" fill="#808080"/>
<rect x="1" y="1" width="1" height="588" fill="#808080"/>
<rect x="518" y="1" width="1" height="588" fill="#808080"/>
<rect x="0" y="0" width="520" height="1" fill="#000"/>
<rect x="0" y="589" width="520" height="1" fill="#000"/>
<rect x="0" y="0" width="1" height="590" fill="#000"/>
<rect x="519" y="0" width="1" height="590" fill="#000"/>
</svg>
</body></html>
